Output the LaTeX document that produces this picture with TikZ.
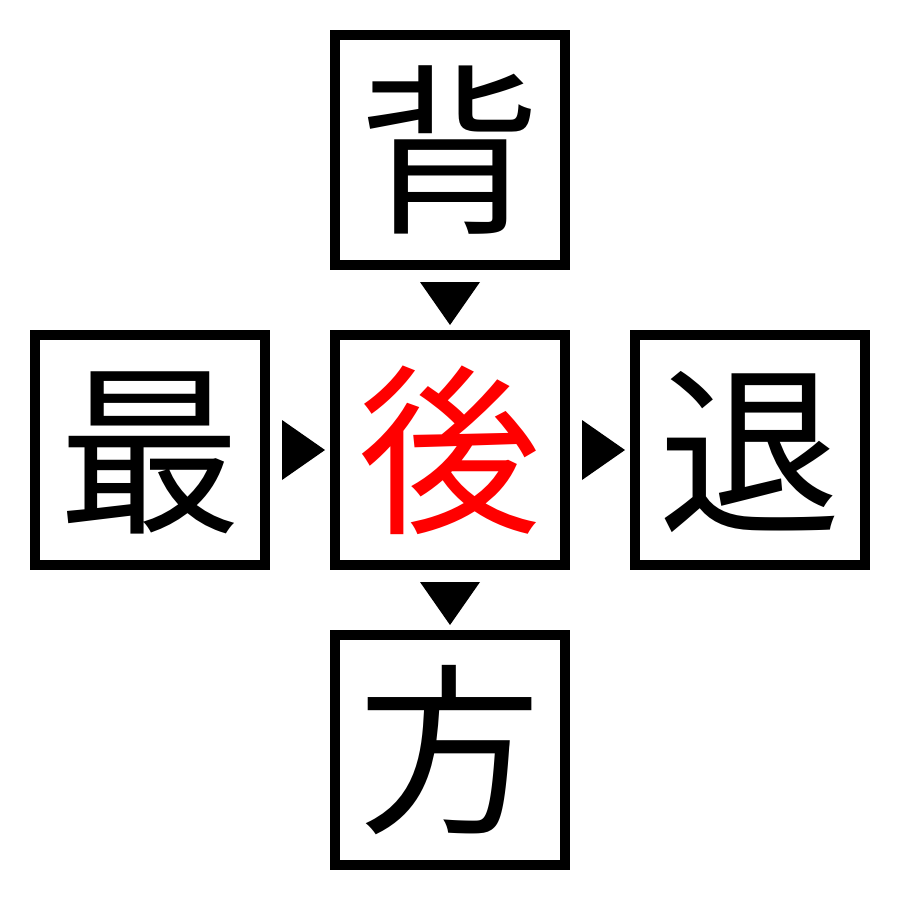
\documentclass[tikz,border=0pt]{standalone}
\usepackage{fontspec}
\newfontfamily\cjk{Noto Sans CJK JP}
\begin{document}
\begin{tikzpicture}[x=0.01cm,y=-0.01cm,
  kbox/.style={draw=black,line width=0.1cm,minimum size=2.3cm,inner sep=0pt,font=\cjk\fontsize{52}{52}\selectfont,text height=45.8pt,text depth=6.2pt},
  tri/.style={fill=black,draw=none}]
\useasboundingbox (0,0) rectangle (900,900);
\fill[white] (0,0) rectangle (900,900);
\node[kbox] (top) at (450,150) {背};
\node[kbox] (left) at (150,450) {最};
\node[kbox,text=red] (mid) at (450,450) {後};
\node[kbox] (right) at (750,450) {退};
\node[kbox] (bot) at (450,750) {方};
\fill[tri] (420,282) -- (480,282) -- (450,325) -- cycle;
\fill[tri] (282,420) -- (282,480) -- (325,450) -- cycle;
\fill[tri] (582,420) -- (582,480) -- (625,450) -- cycle;
\fill[tri] (420,582) -- (480,582) -- (450,625) -- cycle;
\end{tikzpicture}
\end{document}
